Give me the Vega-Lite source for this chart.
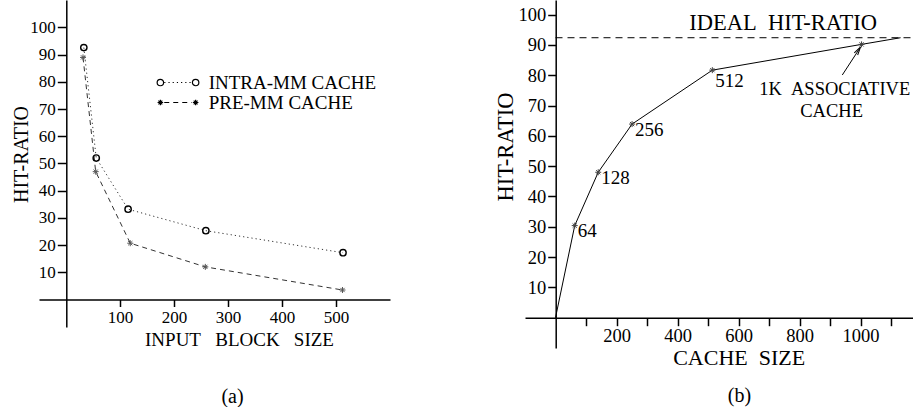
{
  "$schema": "https://vega.github.io/schema/vega-lite/v6.json",
  "background": "white",
  "padding": {"left": 11, "top": 0, "right": 0, "bottom": 0},
  "spacing": 104,
  "datasets": {
    "left": [
      {"series": "INTRA-MM CACHE", "size": 33, "hit": 92.6},
      {"series": "INTRA-MM CACHE", "size": 56, "hit": 52},
      {"series": "INTRA-MM CACHE", "size": 115, "hit": 33.2},
      {"series": "INTRA-MM CACHE", "size": 259, "hit": 25.3},
      {"series": "INTRA-MM CACHE", "size": 513, "hit": 17.2},
      {"series": "PRE-MM CACHE", "size": 31.5, "hit": 89},
      {"series": "PRE-MM CACHE", "size": 55, "hit": 47},
      {"series": "PRE-MM CACHE", "size": 119, "hit": 20.7},
      {"series": "PRE-MM CACHE", "size": 258, "hit": 12},
      {"series": "PRE-MM CACHE", "size": 512, "hit": 3.5}
    ],
    "curve": [
      {"x": 0, "y": 0, "star": false, "label": null},
      {"x": 63, "y": 30.4, "star": true, "label": "64"},
      {"x": 140, "y": 48, "star": true, "label": "128"},
      {"x": 251, "y": 63.9, "star": true, "label": "256"},
      {"x": 514, "y": 81.7, "star": true, "label": "512"},
      {"x": 1003, "y": 90.2, "star": true, "label": null},
      {"x": 1131, "y": 92.4, "star": false, "label": null}
    ],
    "ideal": [{"x": 0, "x2": 1175, "y": 92.4}],
    "notes": [
      {"kind": "big", "x": 746, "y": 95, "text": "IDEAL\u00a0\u00a0HIT-RATIO"},
      {"kind": "small", "x": 915, "y": 73.5, "text": "1K\u00a0\u00a0ASSOCIATIVE"},
      {"kind": "small", "x": 905, "y": 66.3, "text": "CACHE"}
    ],
    "arrow": [{"x": 940, "y": 80.1, "x2": 997, "y2": 88.9, "tx": 1000, "ty": 89.4}]
  },
  "hconcat": [
    {
      "width": 351,
      "height": 327,
      "title": {"text": "(a)", "orient": "bottom", "frame": "group", "anchor": "middle", "dx": 18, "offset": 38, "fontSize": 20, "font": "Liberation Serif", "fontWeight": "normal", "color": "black"},
      "data": {"name": "left"},
      "layer": [
        {
          "mark": {"type": "line", "color": "#333", "strokeWidth": 1},
          "encoding": {
            "x": {"field": "size", "type": "quantitative", "scale": {"domain": [-50, 600], "nice": false, "zero": false},
              "axis": {"values": [100, 200, 300, 400, 500], "tickCount": 30, "labelOverlap": false, "offset": -27.5, "tickSize": 7, "labelPadding": 3, "labelFontSize": 17,
                "title": "INPUT\u00a0\u00a0\u00a0BLOCK\u00a0\u00a0\u00a0SIZE", "titleFontSize": 19, "titleX": 200, "titleY": 45.5, "titleAlign": "center", "titleBaseline": "alphabetic"}},
            "y": {"field": "hit", "type": "quantitative", "scale": {"domain": [-10.1, 110.1], "nice": false, "zero": false},
              "axis": {"values": [10, 20, 30, 40, 50, 60, 70, 80, 90, 100], "tickCount": 30, "labelOverlap": false, "offset": -27.3, "tickSize": 9, "labelPadding": 2, "labelFontSize": 17,
                "title": "HIT-RATIO", "titleFontSize": 20, "titleAngle": 270, "titleX": -39, "titleY": 154, "titleAlign": "center", "titleBaseline": "alphabetic"}},
            "strokeDash": {"field": "series", "type": "nominal",
              "scale": {"domain": ["INTRA-MM CACHE", "PRE-MM CACHE"], "range": [[1.2, 3], [5, 4]]},
              "legend": {"orient": "none", "legendX": 116.5, "legendY": 75, "title": null, "padding": 0, "symbolType": "M-0.64,0L0.64,0", "symbolSize": 1849, "clipHeight": 15, "symbolStrokeColor": "black", "symbolStrokeWidth": 1.2, "rowPadding": 0, "labelOffset": 8.2,
                "labelFont": "Liberation Serif", "labelFontSize": 19, "labelColor": "black", "labelLimit": 400}
            }
          }
        },
        {
          "transform": [{"filter": "datum.series === 'INTRA-MM CACHE'"}],
          "mark": {"type": "point", "shape": "circle", "size": 40, "filled": false, "stroke": "black", "strokeWidth": 1.4, "opacity": 1},
          "encoding": {
            "x": {"field": "size", "type": "quantitative", "scale": {"domain": [-50, 600], "nice": false, "zero": false}},
            "y": {"field": "hit", "type": "quantitative", "scale": {"domain": [-10.1, 110.1], "nice": false, "zero": false}}
          }
        },
        {
          "transform": [{"filter": "datum.series === 'PRE-MM CACHE'"}],
          "mark": {"type": "point", "shape": "M-1,0L1,0M0,-1L0,1M-0.7,-0.7L0.7,0.7M-0.7,0.7L0.7,-0.7", "size": 36, "filled": false, "stroke": "#555", "strokeWidth": 1, "opacity": 1},
          "encoding": {
            "x": {"field": "size", "type": "quantitative", "scale": {"domain": [-50, 600], "nice": false, "zero": false}},
            "y": {"field": "hit", "type": "quantitative", "scale": {"domain": [-10.1, 110.1], "nice": false, "zero": false}}
          }
        },
        {
          "mark": {"type": "point", "filled": false, "opacity": 0},
          "encoding": {
            "x": {"field": "size", "type": "quantitative", "scale": {"domain": [-50, 600], "nice": false, "zero": false}},
            "y": {"field": "hit", "type": "quantitative", "scale": {"domain": [-10.1, 110.1], "nice": false, "zero": false}},
            "shape": {"field": "series", "type": "nominal",
              "scale": {"domain": ["PRE-MM CACHE", "INTRA-MM CACHE"],
                "range": ["M-0.95,0H-0.69M-0.82,-0.13V0.13M-0.91,-0.09L-0.73,0.09M-0.91,0.09L-0.73,-0.09M0.69,0H0.95M0.82,-0.13V0.13M0.73,-0.09L0.91,0.09M0.73,0.09L0.91,-0.09",
                          "M-0.67,0A0.15,0.15,0,1,1,-0.97,0A0.15,0.15,0,1,1,-0.67,0M0.97,0A0.15,0.15,0,1,1,0.67,0A0.15,0.15,0,1,1,0.97,0"]},
              "legend": {"orient": "none", "legendX": 116.5, "legendY": 75, "values": ["INTRA-MM CACHE", "PRE-MM CACHE"], "title": null, "padding": 0, "symbolSize": 1849, "clipHeight": 15, "rowPadding": 0, "labelOffset": 8.2,
                "labelFont": "Liberation Serif", "labelFontSize": 19, "labelOpacity": 0, "labelLimit": 400,
                "symbolStrokeColor": "black", "symbolFillColor": "transparent", "symbolStrokeWidth": 1.2, "symbolOpacity": 1}
            }
          }
        }
      ]
    },
    {
      "width": 389,
      "height": 348,
      "title": {"text": "(b)", "orient": "bottom", "frame": "group", "anchor": "middle", "dx": 20, "offset": 18, "fontSize": 20, "font": "Liberation Serif", "fontWeight": "normal", "color": "black"},
      "layer": [
        {
          "data": {"name": "curve"},
          "mark": {"type": "line", "color": "black", "strokeWidth": 1},
          "encoding": {
            "x": {"field": "x", "type": "quantitative", "scale": {"domain": [-100, 1175], "nice": false, "zero": false},
              "axis": {"values": [100, 200, 300, 400, 500, 600, 700, 800, 900, 1000, 1100], "format": "d", "tickCount": 30, "labelOverlap": false, "labelExpr": "datum.value % 200 === 0 ? datum.label : ''", "offset": -30.3, "tickSize": 8, "labelPadding": 1, "labelFontSize": 18.5,
                "title": "CACHE\u00a0\u00a0SIZE", "titleFontSize": 22, "titleX": 213.7, "titleY": 46.3, "titleAlign": "center", "titleBaseline": "alphabetic"}},
            "y": {"field": "y", "type": "quantitative", "scale": {"domain": [-10, 104.85], "nice": false, "zero": false},
              "axis": {"values": [10, 20, 30, 40, 50, 60, 70, 80, 90, 100], "tickCount": 30, "labelOverlap": false, "offset": -30.7, "tickSize": 8, "labelPadding": 2, "labelFontSize": 18.5,
                "title": "HIT-RATIO", "titleFontSize": 22.5, "titleAngle": 270, "titleX": -43, "titleY": 146.5, "titleAlign": "center", "titleBaseline": "alphabetic"}}
          }
        },
        {
          "data": {"name": "ideal"},
          "mark": {"type": "rule", "color": "black", "strokeWidth": 1, "strokeDash": [7, 5]},
          "encoding": {
            "x": {"field": "x", "type": "quantitative", "scale": {"domain": [-100, 1175], "nice": false, "zero": false}},
            "x2": {"field": "x2"},
            "y": {"field": "y", "type": "quantitative", "scale": {"domain": [-10, 104.85], "nice": false, "zero": false}}
          }
        },
        {
          "data": {"name": "curve"},
          "transform": [{"filter": "datum.star"}],
          "mark": {"type": "point", "shape": "M-1,0L1,0M0,-1L0,1M-0.7,-0.7L0.7,0.7M-0.7,0.7L0.7,-0.7", "size": 36, "filled": false, "stroke": "#444", "strokeWidth": 1, "opacity": 1},
          "encoding": {
            "x": {"field": "x", "type": "quantitative", "scale": {"domain": [-100, 1175], "nice": false, "zero": false}},
            "y": {"field": "y", "type": "quantitative", "scale": {"domain": [-10, 104.85], "nice": false, "zero": false}}
          }
        },
        {
          "data": {"name": "curve"},
          "transform": [{"filter": "datum.label != null && datum.label !== '512'"}],
          "mark": {"type": "text", "align": "left", "baseline": "top", "dx": 3, "dy": -3.4, "fontSize": 19, "font": "Liberation Serif", "color": "black"},
          "encoding": {
            "x": {"field": "x", "type": "quantitative", "scale": {"domain": [-100, 1175], "nice": false, "zero": false}},
            "y": {"field": "y", "type": "quantitative", "scale": {"domain": [-10, 104.85], "nice": false, "zero": false}},
            "text": {"field": "label"}
          }
        },
        {
          "data": {"name": "curve"},
          "transform": [{"filter": "datum.label === '512'"}],
          "mark": {"type": "text", "align": "left", "baseline": "top", "dx": 3, "dy": 2, "fontSize": 19, "font": "Liberation Serif", "color": "black"},
          "encoding": {
            "x": {"field": "x", "type": "quantitative", "scale": {"domain": [-100, 1175], "nice": false, "zero": false}},
            "y": {"field": "y", "type": "quantitative", "scale": {"domain": [-10, 104.85], "nice": false, "zero": false}},
            "text": {"field": "label"}
          }
        },
        {
          "data": {"name": "notes"},
          "transform": [{"filter": "datum.kind === 'big'"}],
          "mark": {"type": "text", "align": "center", "baseline": "alphabetic", "fontSize": 22.5, "font": "Liberation Serif", "color": "black"},
          "encoding": {
            "x": {"field": "x", "type": "quantitative", "scale": {"domain": [-100, 1175], "nice": false, "zero": false}},
            "y": {"field": "y", "type": "quantitative", "scale": {"domain": [-10, 104.85], "nice": false, "zero": false}},
            "text": {"field": "text"}
          }
        },
        {
          "data": {"name": "notes"},
          "transform": [{"filter": "datum.kind === 'small'"}],
          "mark": {"type": "text", "align": "center", "baseline": "alphabetic", "fontSize": 18.5, "font": "Liberation Serif", "color": "black"},
          "encoding": {
            "x": {"field": "x", "type": "quantitative", "scale": {"domain": [-100, 1175], "nice": false, "zero": false}},
            "y": {"field": "y", "type": "quantitative", "scale": {"domain": [-10, 104.85], "nice": false, "zero": false}},
            "text": {"field": "text"}
          }
        },
        {
          "data": {"name": "arrow"},
          "mark": {"type": "rule", "color": "black", "strokeWidth": 1},
          "encoding": {
            "x": {"field": "x", "type": "quantitative", "scale": {"domain": [-100, 1175], "nice": false, "zero": false}},
            "y": {"field": "y", "type": "quantitative", "scale": {"domain": [-10, 104.85], "nice": false, "zero": false}},
            "x2": {"field": "x2"},
            "y2": {"field": "y2"}
          }
        },
        {
          "data": {"name": "arrow"},
          "mark": {"type": "point", "shape": "M-0.8,3.4L0,0L0.8,3.4", "size": 25, "angle": 33, "filled": false, "stroke": "black", "strokeWidth": 1, "opacity": 1},
          "encoding": {
            "x": {"field": "tx", "type": "quantitative", "scale": {"domain": [-100, 1175], "nice": false, "zero": false}},
            "y": {"field": "ty", "type": "quantitative", "scale": {"domain": [-10, 104.85], "nice": false, "zero": false}}
          }
        }
      ]
    }
  ],
  "config": {
    "view": {"stroke": null},
    "font": "Liberation Serif",
    "axis": {
      "grid": false,
      "domainColor": "black",
      "domainWidth": 1.5,
      "tickColor": "black",
      "tickWidth": 1.5,
      "labelColor": "black",
      "labelFont": "Liberation Serif",
      "titleFont": "Liberation Serif",
      "titleColor": "black",
      "titleFontWeight": "normal",
      "labelFlush": false,
      "labelOverlap": false
    }
  }
}
